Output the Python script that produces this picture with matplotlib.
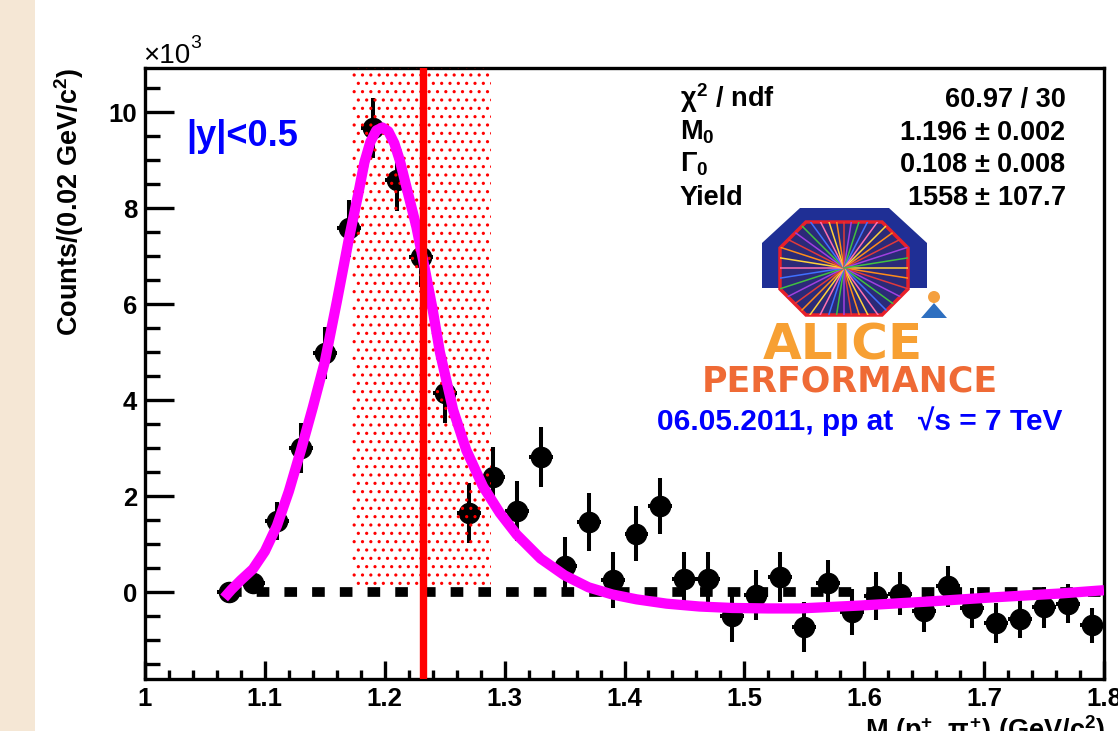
import numpy as np
import matplotlib
matplotlib.use("Agg")
import matplotlib.pyplot as plt
from matplotlib.patches import Polygon, Circle, Rectangle
from matplotlib.ticker import MultipleLocator, FixedLocator

plt.rcParams['font.family'] = ['Liberation Sans', 'DejaVu Sans']
plt.rcParams['font.weight'] = 'bold'
plt.rcParams['mathtext.fontset'] = 'custom'
plt.rcParams['mathtext.rm'] = 'Liberation Sans:bold'
plt.rcParams['mathtext.it'] = 'Liberation Sans:bold'
plt.rcParams['mathtext.bf'] = 'Liberation Sans:bold'
plt.rcParams['hatch.linewidth'] = 1.1

# ---------------- data (counts in units of 10^3) ----------------
mass = [1.07, 1.09, 1.11, 1.13, 1.15, 1.17, 1.19, 1.21, 1.23, 1.25,
        1.27, 1.29, 1.31, 1.33, 1.35, 1.37, 1.39, 1.41, 1.43, 1.45,
        1.47, 1.49, 1.51, 1.53, 1.55, 1.57, 1.59, 1.61, 1.63, 1.65,
        1.67, 1.69, 1.71, 1.73, 1.75, 1.77, 1.79]
counts = [0.0, 0.19, 1.48, 3.0, 4.98, 7.58, 9.67, 8.58, 6.98, 4.15,
          1.65, 2.4, 1.69, 2.81, 0.54, 1.46, 0.25, 1.22, 1.79, 0.27,
          0.27, -0.5, -0.06, 0.31, -0.72, 0.2, -0.41, -0.08, -0.03, -0.39,
          0.12, -0.33, -0.65, -0.56, -0.32, -0.24, -0.69]
errors = [0.05, 0.2, 0.4, 0.52, 0.55, 0.6, 0.63, 0.63, 0.63, 0.63,
          0.63, 0.63, 0.63, 0.63, 0.6, 0.6, 0.58, 0.58, 0.58, 0.56,
          0.56, 0.54, 0.52, 0.52, 0.52, 0.46, 0.48, 0.5, 0.44, 0.44,
          0.42, 0.42, 0.42, 0.4, 0.42, 0.4, 0.36]
bin_half_width = 0.01

# fit curve
fit_x = [1.066, 1.072, 1.08, 1.09, 1.10, 1.11, 1.12, 1.13, 1.14, 1.15,
         1.16, 1.17, 1.178, 1.183, 1.188, 1.193, 1.198, 1.203, 1.208, 1.2125,
         1.2194, 1.2264, 1.232, 1.240, 1.246, 1.257, 1.268, 1.282, 1.296, 1.31,
         1.33, 1.35, 1.37, 1.39, 1.41, 1.435, 1.4625, 1.49, 1.52, 1.546,
         1.596, 1.651, 1.707, 1.7625, 1.8]
fit_y = [-0.12, 0.05, 0.25, 0.48, 0.85, 1.38, 2.1, 2.95, 3.85, 4.8,
         6.05, 7.35, 8.31, 8.95, 9.38, 9.62, 9.68, 9.6, 9.35, 9.0,
         8.31, 7.61, 6.92, 5.88, 5.0, 3.8, 2.96, 2.2, 1.65, 1.2,
         0.7, 0.35, 0.1, -0.05, -0.15, -0.24, -0.3, -0.33, -0.34, -0.34,
         -0.28, -0.2, -0.11, -0.03, 0.04]

baseline_x = [1.07, 1.8]
baseline_y = [0.0, 0.0]

signal_lo, signal_hi = 1.173, 1.289
signal_bottom = 0.08
marker_line = 1.232

x_major = [1.0, 1.1, 1.2, 1.3, 1.4, 1.5, 1.6, 1.7, 1.8]
x_labels = ['1', '1.1', '1.2', '1.3', '1.4', '1.5', '1.6', '1.7', '1.8']
y_major = [0, 2, 4, 6, 8, 10]
y_labels = ['0', '2', '4', '6', '8', '10']

stat_names = [r'$\chi^{2}$ / ndf', r'M$_{0}$', r'$\Gamma_{0}$', 'Yield']
stat_values = ['60.97 / 30', '1.196 $\\pm$ 0.002', '0.108 $\\pm$ 0.008', '1558 $\\pm$ 107.7']

# ---------------- figure ----------------
W, H = 1118, 731
fig = plt.figure(figsize=(W / 100, H / 100), dpi=100, facecolor='white')
fig.patches.append(Rectangle((0, 0), 35 / W, 1, transform=fig.transFigure,
                             facecolor='#F5E7D5', edgecolor='none', zorder=0))

ax = fig.add_axes([145 / W, 1 - 679 / H, (1104 - 145) / W, (679 - 68) / H])
ax.set_xlim(1.0, 1.8)
ax.set_ylim(-1.81, 10.92)

ax.errorbar(mass, counts, yerr=errors, xerr=bin_half_width, fmt='o', color='black',
            ms=14.5, elinewidth=2.9, capsize=0, zorder=2)
ax.fill_between([signal_lo, signal_hi], signal_bottom, 10.92, facecolor='none',
                edgecolor='red', hatch='..', linewidth=0, zorder=3)
ax.plot(baseline_x, baseline_y, color='black', lw=7, ls=(0, (1.3, 1.55)), zorder=3.5)
ax.plot(fit_x, fit_y, color='#FF00FF', lw=7.4, solid_joinstyle='round',
        solid_capstyle='butt', zorder=4)
ax.axvline(marker_line, color='#FF0000', lw=5.3, zorder=5)

ax.xaxis.set_major_locator(FixedLocator(x_major))
ax.set_xticklabels(x_labels)
ax.xaxis.set_minor_locator(MultipleLocator(0.02))
ax.yaxis.set_major_locator(FixedLocator(y_major))
ax.set_yticklabels(y_labels)
ax.yaxis.set_minor_locator(MultipleLocator(0.5))
ax.tick_params(which='both', direction='in', top=False, right=False, width=2.4,
               labelsize=18.5, colors='black')
ax.tick_params(axis='y', which='major', length=21, pad=5.5)
ax.tick_params(axis='y', which='minor', length=10.5)
ax.tick_params(axis='x', which='major', length=13, pad=6)
ax.tick_params(axis='x', which='minor', length=6.5)
for lab in ax.get_xticklabels() + ax.get_yticklabels():
    lab.set_fontweight('bold')
for s in ax.spines.values():
    s.set_linewidth(2.4)

# ---------------- overlay in pixel coordinates ----------------
ov = fig.add_axes([0, 0, 1, 1], zorder=10)
ov.set_xlim(0, W)
ov.set_ylim(H, 0)
ov.axis('off')
ov.patch.set_alpha(0)

ov.text(69, 68, 'Counts/(0.02 GeV/c$^{2}$)', rotation=90, ha='center', va='top',
        fontsize=19.5, fontweight='bold')
ov.text(1105, 713, 'M (p$^{+}$, $\\pi^{+}$) (GeV/c$^{2}$)', ha='right', va='top',
        fontsize=19.5, fontweight='bold')
ov.text(143, 63, '\u00d710', ha='left', va='baseline', fontsize=20, fontweight='normal')
ov.text(190, 48, '3', ha='left', va='baseline', fontsize=14, fontweight='normal')

ov.text(186, 146, '|y|<0.5', color='#0000FF', fontsize=26, fontweight='bold',
        ha='left', va='baseline')

base = [107, 140, 172, 205]
for nm, val, yb in zip(stat_names, stat_values, base):
    ov.text(680, yb, nm, ha='left', va='baseline', fontsize=19.5, fontweight='bold')
    ov.text(1066, yb, val, ha='right', va='baseline', fontsize=19.5, fontweight='bold')

# ALICE logo (drawn)
arch = Polygon([(762, 288), (762, 243), (800, 208), (889, 208), (927, 243), (927, 288)],
               closed=True, facecolor='#1F2F95', edgecolor='none')
ov.add_patch(arch)
octv = [(806, 222), (882, 222), (908, 248), (908, 289), (882, 315), (806, 315),
        (780, 289), (780, 248)]
octo = Polygon(octv, closed=True, facecolor='#2B2A78', edgecolor='#E8202A', lw=2.5)
ov.add_patch(octo)
ray_cols = ['#FFD23A', '#FF8C1A', '#E03A3A', '#A040E0', '#40C040', '#4070FF', '#FF70B0']
cx, cy = 844, 268
for i in range(40):
    a = 2 * np.pi * i / 40
    ln, = ov.plot([cx, cx + 90 * np.cos(a)], [cy, cy + 90 * np.sin(a)],
                  color=ray_cols[i % len(ray_cols)], lw=1.1)
    ln.set_clip_path(Polygon(octv, closed=True, transform=ov.transData))
ov.add_patch(Circle((934, 297), 6, facecolor='#F4A040', edgecolor='none'))
ov.add_patch(Polygon([(921, 318), (947, 318), (934, 303)], closed=True,
                     facecolor='#2E6FC0', edgecolor='none'))
ov.text(843, 360, 'ALICE', ha='center', va='baseline', fontsize=36,
        fontweight='bold', color='#F7A033', family=['DejaVu Sans'])
ov.text(850, 392, 'PERFORMANCE', ha='center', va='baseline', fontsize=25,
        fontweight='bold', color='#EF6A35', family=['DejaVu Sans'])
ov.text(657, 430, '06.05.2011, pp at   \u221as = 7 TeV', ha='left', va='baseline',
        fontsize=21.5, fontweight='bold', color='#0000FF')

fig.savefig('out.png', dpi=100, facecolor='white')
